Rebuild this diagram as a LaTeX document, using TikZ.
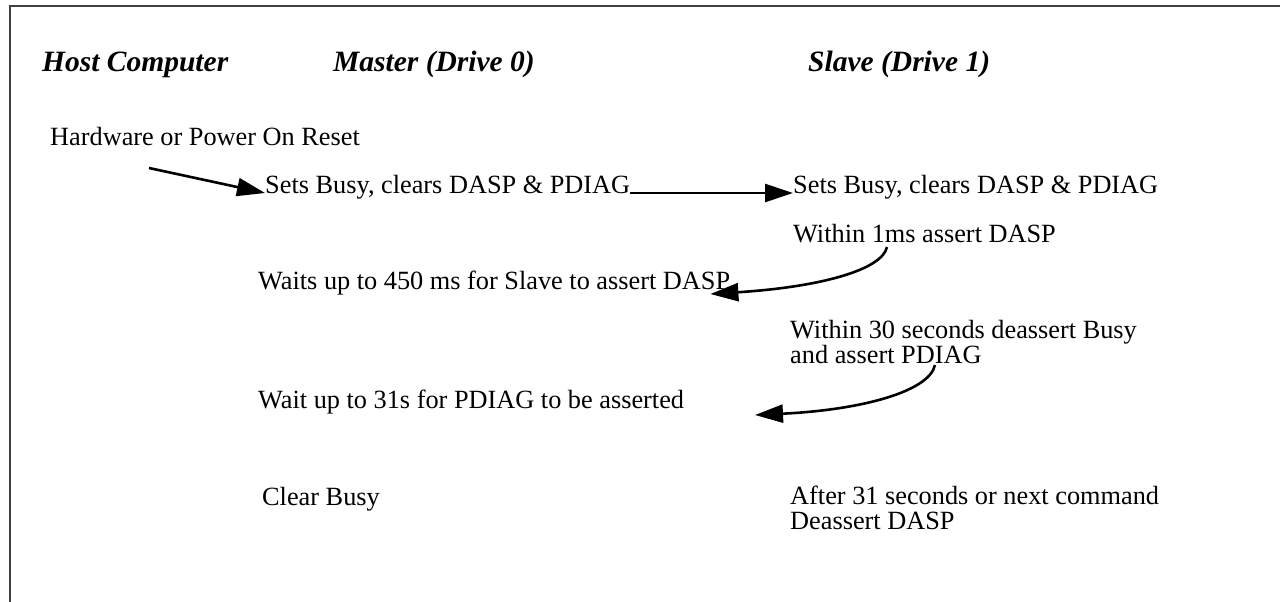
\documentclass[tikz,border=0pt]{standalone}
\usepackage{fontspec}
\setmainfont{Liberation Serif}
\usetikzlibrary{arrows.meta}

\tikzset{
  txt/.style={anchor=base west,inner sep=0pt,align=left,font=\fontsize{26.3}{24.5}\selectfont},
  head/.style={anchor=base west,inner sep=0pt,font=\fontsize{29.5}{31}\selectfont\bfseries\itshape},
  conn/.style={line width=2.6pt,-{Triangle[length=28pt,width=18pt]}}
}

\begin{document}
\begin{tikzpicture}[x=1pt,y=1pt]
  \useasboundingbox (0,0) rectangle (1280,-602);
  % frame
  \draw[line width=2pt,black!75] (10,-602) -- (10,-6) -- (1280,-6);

  % column heads
  \node[head] (hhost) at (42,-72) {Host Computer};
  \node[head] (hmaster) at (333,-72) {Master (Drive 0)};
  \node[head] (hslave) at (808,-72) {Slave (Drive 1)};

  % host
  \node[txt] (reset) at (50,-145) {Hardware or Power On Reset};
  \coordinate (hoststart) at (149,-168);

  % master
  \node[txt] (mset) at (265,-193) {Sets Busy, clears DASP \& PDIAG};
  \node[txt] (mwait) at (258,-289) {Waits up to 450 ms for Slave to assert DASP};
  \node[txt] (mwaitdiag) at (258,-408) {Wait up to 31s for PDIAG to be asserted};
  \node[txt] (mclear) at (262,-505) {Clear Busy};

  % slave (two-line texts sit on their last line)
  \node[txt] (sset) at (793,-193) {Sets Busy, clears DASP \& PDIAG};
  \node[txt] (sdasp) at (793,-242) {Within 1ms assert DASP};
  \node[txt] (sdiag) at (790,-363) {Within 30 seconds deassert Busy\\and assert PDIAG};
  \node[txt] (sdone) at (790,-529) {After 31 seconds or next command\\Deassert DASP};

  % connectors
  \draw[conn] (hoststart) -- (mset.base west);
  \draw[conn] (mset.base east) -- (sset.base west);
  \draw[conn] ([xshift=94pt,yshift=-5pt]sdasp.base west)
    .. controls (882,-270) and (820,-287) .. ([xshift=-20pt,yshift=-5pt]mwait.base east);
  \coordinate (diagend) at (755,-415);
  \draw[conn] ([xshift=145pt,yshift=-2pt]sdiag.base west)
    .. controls (929,-392) and (860,-410) .. (diagend);
\end{tikzpicture}
\end{document}
